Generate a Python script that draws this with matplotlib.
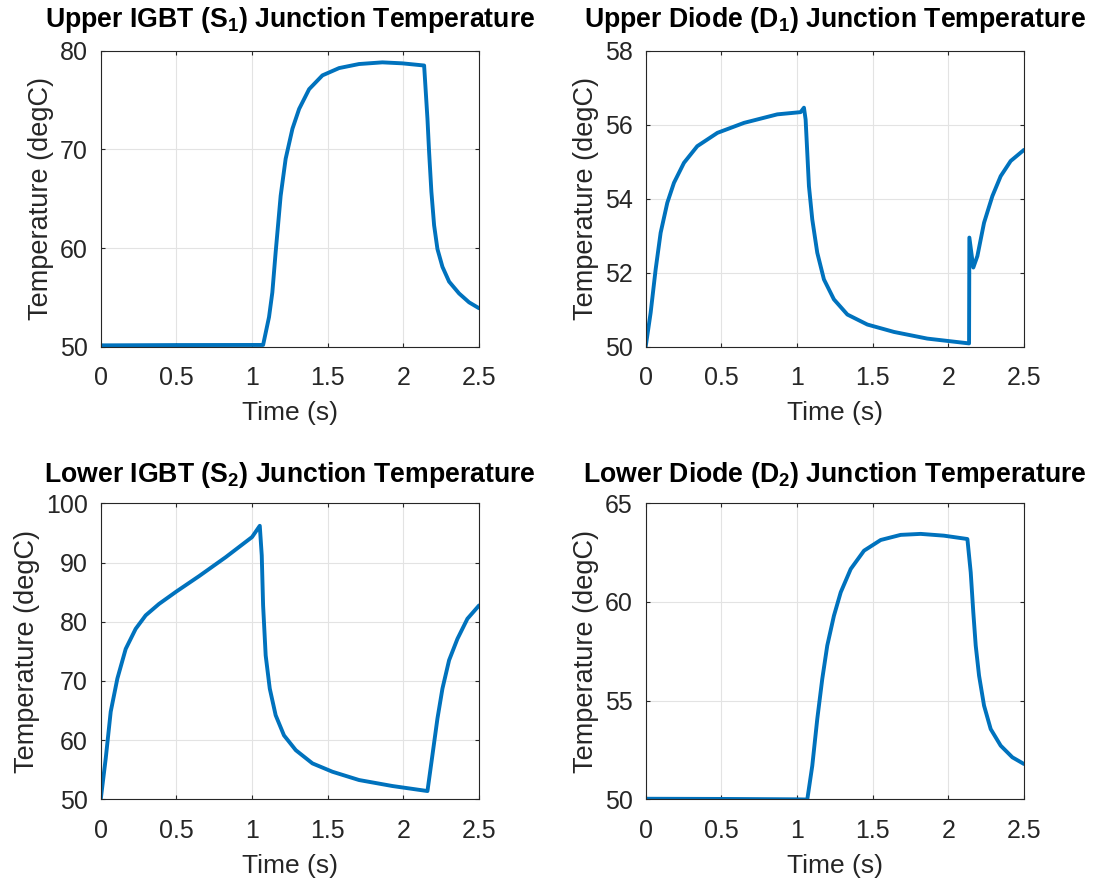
import numpy as np
import matplotlib
matplotlib.use("Agg")
import matplotlib.pyplot as plt

plt.rcParams['font.family'] = ['Liberation Sans', 'DejaVu Sans']
plt.rcParams['mathtext.fontset'] = 'custom'
plt.rcParams['mathtext.rm'] = 'Liberation Sans'
plt.rcParams['mathtext.bf'] = 'Liberation Sans:bold'

# Upper IGBT S1
t_s1 = [0, 0.5, 1.0, 1.073, 1.112, 1.134, 1.156, 1.189, 1.222, 1.267, 1.311, 1.377, 1.465,
        1.575, 1.707, 1.861, 1.993, 2.137, 2.159, 2.17, 2.185, 2.203, 2.225, 2.258, 2.302,
        2.368, 2.434, 2.5]
T_s1 = [50.14, 50.17, 50.18, 50.18, 53.0, 55.5, 59.6, 65.3, 69.05, 72.1, 74.1, 76.1, 77.5,
        78.24, 78.65, 78.82, 78.72, 78.5, 73.1, 69.7, 65.7, 62.3, 59.9, 58.1, 56.6,
        55.4, 54.5, 53.9]

# Upper diode D1
t_d1 = [0, 0.033, 0.066, 0.099, 0.143, 0.187, 0.253, 0.341, 0.474, 0.65, 0.87, 1.024,
        1.046, 1.057, 1.068, 1.079, 1.101, 1.134, 1.178, 1.244, 1.333, 1.465, 1.641,
        1.861, 2.137, 2.139, 2.165, 2.192, 2.236, 2.291, 2.346, 2.412, 2.5]
T_d1 = [50.0, 50.92, 52.09, 53.08, 53.89, 54.43, 54.97, 55.42, 55.78, 56.05, 56.28, 56.34,
        56.46, 56.14, 55.24, 54.34, 53.44, 52.54, 51.82, 51.28, 50.87, 50.6, 50.4,
        50.22, 50.09, 52.95, 52.14, 52.45, 53.35, 54.07, 54.61, 55.02, 55.32]

# Lower IGBT S2
t_s2 = [0, 0.033, 0.066, 0.11, 0.165, 0.231, 0.297, 0.385, 0.5, 0.65, 0.826, 1.0, 1.051,
        1.064, 1.073, 1.09, 1.117, 1.156, 1.211, 1.289, 1.399, 1.531, 1.707, 1.927, 2.159,
        2.192, 2.225, 2.258, 2.302, 2.357, 2.423, 2.5]
T_s2 = [50.0, 56.9, 64.8, 70.4, 75.4, 78.8, 81.07, 83.0, 85.1, 87.7, 90.9, 94.3, 96.2,
        91.2, 82.75, 74.3, 68.7, 64.2, 60.8, 58.3, 56.07, 54.66, 53.26, 52.25, 51.4,
        57.5, 63.65, 68.7, 73.5, 77.1, 80.5, 82.75]

# Lower diode D2
t_d2 = [0, 0.5, 1.0, 1.068, 1.101, 1.134, 1.167, 1.2, 1.244, 1.289, 1.355, 1.443, 1.553,
        1.685, 1.817, 1.971, 2.126, 2.148, 2.165, 2.181, 2.203, 2.236, 2.28, 2.346, 2.423, 2.5]
T_d2 = [50.03, 50.02, 50.0, 49.99, 51.7, 54.07, 56.1, 57.79, 59.3, 60.49, 61.67, 62.6, 63.14,
        63.4, 63.45, 63.36, 63.19, 61.5, 59.48, 57.79, 56.27, 54.75, 53.56, 52.72, 52.13, 51.79]

titles = [r'Upper IGBT (S$_\mathbf{1}$) Junction Temperature',
          r'Upper Diode (D$_\mathbf{1}$) Junction Temperature',
          r'Lower IGBT (S$_\mathbf{2}$) Junction Temperature',
          r'Lower Diode (D$_\mathbf{2}$) Junction Temperature']
ylims = [(50, 80), (50, 58), (50, 100), (50, 65)]
yticks = [[50, 60, 70, 80], [50, 52, 54, 56, 58], [50, 60, 70, 80, 90, 100], [50, 55, 60, 65]]
series = [(t_s1, T_s1), (t_d1, T_d1), (t_s2, T_s2), (t_d2, T_d2)]

fig = plt.figure(figsize=(10.96, 8.85), dpi=100)
positions = [[0.0919, 0.6082, 0.3452, 0.3345], [0.5891, 0.6082, 0.3452, 0.3345],
             [0.0919, 0.0968, 0.3452, 0.3345], [0.5891, 0.0968, 0.3452, 0.3345]]
title_pads = [17, 17, 15.5, 15.5]
dark = '#262626'
for i in range(4):
    ax = fig.add_axes(positions[i])
    t, T = series[i]
    ax.plot(t, T, color='#0072BD', lw=2.8, solid_joinstyle='round', solid_capstyle='round')
    ax.set_xlim(0, 2.5)
    ax.set_ylim(*ylims[i])
    ax.set_xticks([0, 0.5, 1, 1.5, 2, 2.5])
    ax.set_xticklabels(['0', '0.5', '1', '1.5', '2', '2.5'])
    ax.set_yticks(yticks[i])
    ax.grid(True, color='#e3e3e3', lw=0.8)
    ax.set_axisbelow(True)
    ax.tick_params(direction='in', top=True, right=True, length=3.2, width=0.8,
                   colors=dark, labelsize=18)
    ax.tick_params(axis='x', pad=14)
    ax.tick_params(axis='y', pad=9.5)
    for s in ax.spines.values():
        s.set_color(dark)
        s.set_linewidth(0.8)
    ax.set_xlabel('Time (s)', fontsize=19, color=dark, labelpad=8)
    ax.set_ylabel('Temperature (degC)', fontsize=19.5, color=dark, labelpad=4)
    ax.set_title(titles[i], fontsize=19.2, fontweight='bold', pad=title_pads[i])

fig.savefig('out.png', dpi=100)
